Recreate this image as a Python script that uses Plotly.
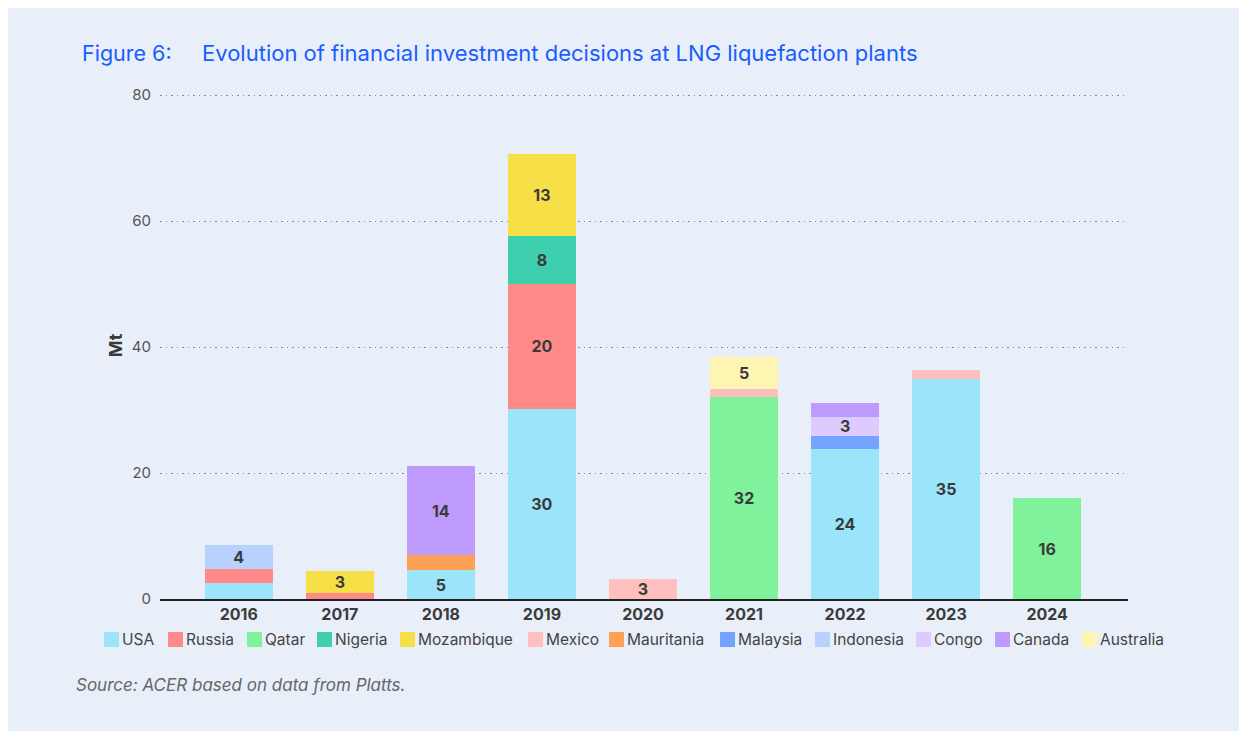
import plotly.graph_objects as go

years = ["2016", "2017", "2018", "2019", "2020", "2021", "2022", "2023", "2024"]

usa        = [2.5, 0,   4.6, 30.2, 0,   0,    23.8, 34.9, 0]
russia     = [2.2, 1.0, 0,   19.8, 0,   0,    0,    0,    0]
qatar      = [0,   0,   0,   0,    0,   32.0, 0,    0,    16.0]
nigeria    = [0,   0,   0,   7.6,  0,   0,    0,    0,    0]
mozambique = [0,   3.4, 0,   13.0, 0,   0,    0,    0,    0]
mexico     = [0,   0,   0,   0,    3.2, 1.4,  0,    1.4,  0]
mauritania = [0,   0,   2.4, 0,    0,   0,    0,    0,    0]
malaysia   = [0,   0,   0,   0,    0,   0,    2.1,  0,    0]
indonesia  = [3.8, 0,   0,   0,    0,   0,    0,    0,    0]
congo      = [0,   0,   0,   0,    0,   0,    3.0,  0,    0]
canada     = [0,   0,   14.1, 0,   0,   0,    2.2,  0,    0]
australia  = [0,   0,   0,   0,    0,   5.1,  0,    0,    0]

series = [
    ("USA", usa, "#9BE5FB"),
    ("Russia", russia, "#FF8A8A"),
    ("Qatar", qatar, "#80F29C"),
    ("Nigeria", nigeria, "#3ECFAF"),
    ("Mozambique", mozambique, "#F7DF48"),
    ("Mexico", mexico, "#FFBFBF"),
    ("Mauritania", mauritania, "#FFA057"),
    ("Malaysia", malaysia, "#74A3FF"),
    ("Indonesia", indonesia, "#B9D1FF"),
    ("Congo", congo, "#DDCBFF"),
    ("Canada", canada, "#BF9AFD"),
    ("Australia", australia, "#FFF5B3"),
]

# legend swatch left edges (screen px) - layout only
legend_x = [104, 168, 247, 317, 400, 528, 609, 720, 815, 916, 995, 1082]

BG = "#E8EFF9"
FONT = "Inter"
OFF = 8  # page body margin
Y_MAX = 80.5

W, H = 1247, 731
# plot area in screen px (top adjusted so that 80 sits at y=95)
PX0, PX1, PY1 = 160, 1128, 599
PY0 = PY1 - (PY1 - 95) * Y_MAX / 80
L, R = PX0 - OFF, W - (PX1 - OFF)
T, B = PY0 - OFF, H - (PY1 - OFF)
pw, ph = W - L - R, H - T - B


def px_x(px):
    return (px - OFF - L) / pw


def px_y(py):
    return (H - B - (py - OFF)) / ph


fig = go.Figure()
for name, vals, color in series:
    labels = [f"{v:.0f}" if v >= 2.9 else "" for v in vals]
    fig.add_trace(go.Bar(
        x=years, y=vals, name=name,
        marker=dict(color=color, line=dict(width=0)),
        text=labels, textposition="inside", insidetextanchor="middle",
        textangle=0, constraintext="none",
        textfont=dict(family=FONT, size=16, color="#3a3a3a", weight="bold"),
        hoverinfo="x+y+name",
        showlegend=False,
    ))

annotations = [
    dict(text="Figure 6:", xref="paper", yref="paper", x=px_x(80), y=px_y(53),
         xanchor="left", yanchor="middle", showarrow=False,
         font=dict(family=FONT, size=21.5, color="#1A5CFF")),
    dict(text="Evolution of financial investment decisions at LNG liquefaction plants",
         xref="paper", yref="paper", x=px_x(200), y=px_y(53),
         xanchor="left", yanchor="middle", showarrow=False,
         font=dict(family=FONT, size=22, color="#1A5CFF")),
    dict(text="<i>Source: ACER based on data from Platts.</i>", xref="paper", yref="paper",
         x=px_x(74), y=px_y(685), xanchor="left", yanchor="middle", showarrow=False,
         font=dict(family=FONT, size=17, color="#666")),
]
shapes = []
for (name, _, color), lx in zip(series, legend_x):
    shapes.append(dict(type="rect", xref="paper", yref="paper",
                       x0=px_x(lx), x1=px_x(lx + 15), y0=px_y(647), y1=px_y(632),
                       fillcolor=color, line=dict(width=0)))
    annotations.append(dict(text=name, xref="paper", yref="paper",
                            x=px_x(lx + 16), y=px_y(640), xanchor="left", yanchor="middle",
                            showarrow=False,
                            font=dict(family=FONT, size=15.5, color="#444")))

fig.update_layout(
    barmode="stack",
    bargap=0.33,
    width=W, height=H,
    margin=dict(l=L, r=R, t=T, b=B, autoexpand=False),
    paper_bgcolor=BG, plot_bgcolor=BG,
    font=dict(family=FONT, color="#444"),
    showlegend=False,
    xaxis=dict(
        type="category", range=[-0.78, 8.8],
        showgrid=False, showline=True, linecolor="#222", linewidth=1.5,
        ticks="", tickfont=dict(family=FONT, size=16, color="#3a3a3a", weight="bold"),
        fixedrange=True,
    ),
    yaxis=dict(
        range=[0, Y_MAX], tickvals=[0, 20, 40, 60, 80],
        showgrid=True, gridcolor="#8a8a8a", griddash="1.5px,4px", gridwidth=1,
        zeroline=False, showline=False, ticks="",
        tickfont=dict(family=FONT, size=15, color="#555"),
        ticklabelstandoff=8,
        title=dict(text="<b>Mt</b>", font=dict(family=FONT, size=18, color="#3a3a3a"), standoff=4),
        fixedrange=True,
    ),
    annotations=annotations,
    shapes=shapes,
)

fig.write_html("out.html")
